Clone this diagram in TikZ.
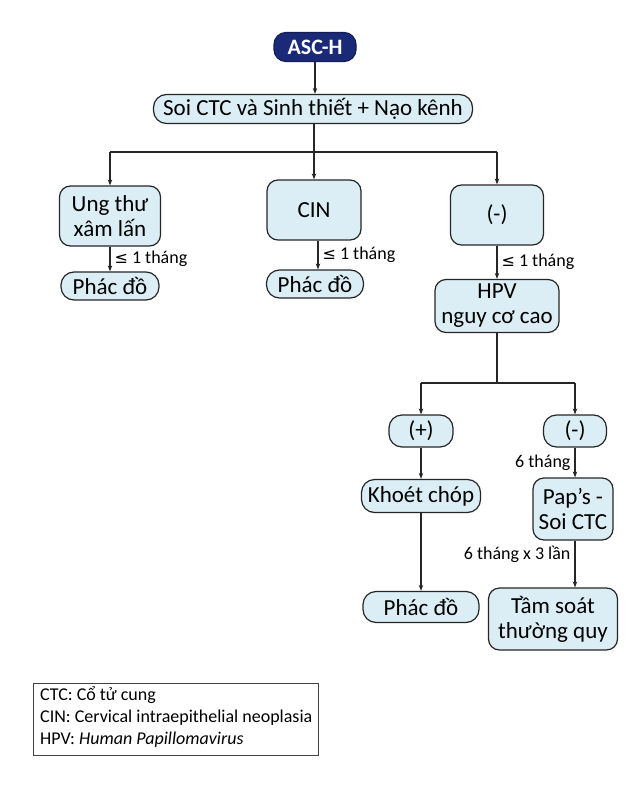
\documentclass[tikz,border=0pt]{standalone}
\usepackage{fontspec}
\setmainfont{Carlito}
\newfontfamily\symf{DejaVu Sans}
\usetikzlibrary{arrows.meta}
\definecolor{boxblue}{HTML}{DCEEF5}
\definecolor{navy}{HTML}{1B2A78}
\definecolor{edge}{HTML}{262626}
\begin{document}
\begin{tikzpicture}[x=1pt,y=-1pt,
  box/.style={draw=edge, line width=1.2pt, fill=boxblue, rounded corners=11pt, align=center,
    font=\fontsize{23}{25}\selectfont, inner sep=0pt},
  pill/.style={box, rounded corners=13pt},
  arr/.style={-{Stealth[length=6pt,width=4.5pt]}, line width=1.1pt, draw=edge},
  ln/.style={line width=1.1pt, draw=edge},
  lab/.style={font=\fontsize{18}{20}\selectfont, inner sep=4pt}]
\useasboundingbox (0,0) rectangle (626,792);
\fill[white] (0,0) rectangle (626,792);
% nodes
\node[box, fill=navy, draw=navy!70!black, text=white, font=\fontsize{22}{22}\selectfont\bfseries,
  minimum width=82pt, minimum height=29pt, rounded corners=12pt] (asch) at (315,47) {ASC-H};
\node[pill, minimum width=319pt, minimum height=29pt] (soi) at (313,109) {Soi CTC và Sinh thiết + Nạo kênh};
\node[box, minimum width=101pt, minimum height=60pt] (ung) at (110,216) {Ung thư\\xâm lấn};
\node[box, minimum width=94pt, minimum height=60pt] (cin) at (314,210) {CIN};
\node[box, minimum width=93pt, minimum height=60pt] (neg1) at (497,215) {(-)};
\node[pill, minimum width=98pt, minimum height=28pt] (pd1) at (110,286) {Phác đồ};
\node[pill, minimum width=97pt, minimum height=28pt] (pd2) at (315,284) {Phác đồ};
\node[box, minimum width=124pt, minimum height=53pt] (hpv) at (497,306) {HPV\\nguy cơ cao};
\node[pill, minimum width=64pt, minimum height=32pt] (pos) at (421,431) {(+)};
\node[pill, minimum width=63pt, minimum height=32pt] (neg2) at (575,431) {(-)};
\node[pill, minimum width=119pt, minimum height=33pt] (khoet) at (421,496) {Khoét chóp};
\node[box, minimum width=80pt, minimum height=62pt] (pap) at (573,509) {Pap’s -\\Soi CTC};
\node[pill, minimum width=116pt, minimum height=31pt] (pd3) at (421,607) {Phác đồ};
\node[box, minimum width=129pt, minimum height=62pt] (tam) at (553,619) {Tầm soát\\thường quy};
% junctions
\coordinate (j1) at (314,152);
\coordinate (jl) at (110,152);
\coordinate (jr) at (497,152);
\coordinate (j2) at (497,383);
\coordinate (jl2) at (421,383);
\coordinate (jr2) at (575,383);
% connectors
\draw[arr] (asch) -- (asch |- soi.north);
\draw[ln] (soi.south -| j1) -- (j1);
\draw[ln] (jl) -- (jr);
\draw[arr] (jl) -- (ung);
\draw[arr] (j1) -- (cin);
\draw[arr] (jr) -- (neg1);
\draw[arr] (ung) -- node[lab, right] {{\symf\fontsize{16}{16}\selectfont ≤} 1 tháng} (pd1);
\draw[arr] (cin.south -| 318,0) -- node[lab, right] {{\symf\fontsize{16}{16}\selectfont ≤} 1 tháng} (pd2.north -| 318,0);
\draw[arr] (neg1) -- node[lab, right] {{\symf\fontsize{16}{16}\selectfont ≤} 1 tháng} (hpv);
\draw[ln] (hpv) -- (j2);
\draw[ln] (jl2) -- (jr2);
\draw[arr] (jl2) -- (pos);
\draw[arr] (jr2) -- (neg2);
\draw[arr] (pos) -- (khoet);
\draw[arr] (neg2) -- node[lab, left] {6 tháng} (pap.north -| neg2);
\draw[arr] (khoet) -- (pd3);
\draw[arr] (pap.south -| neg2) -- node[lab, left, pos=0.3] {6 tháng x 3 lần} (tam.north -| neg2);
% legend
\draw[draw=black!75, line width=0.9pt] (33,683) rectangle (318,755);
\node[anchor=west, font=\fontsize{18}{20}\selectfont, inner sep=0pt] (l1) at (40,695) {CTC: Cổ tử cung};
\node[anchor=west, font=\fontsize{18}{20}\selectfont, inner sep=0pt] (l2) at (40,718) {CIN: Cervical intraepithelial neoplasia};
\node[anchor=west, font=\fontsize{18}{20}\selectfont, inner sep=0pt] (l3) at (40,740) {HPV: \textit{Human Papillomavirus}};
\end{tikzpicture}
\end{document}
